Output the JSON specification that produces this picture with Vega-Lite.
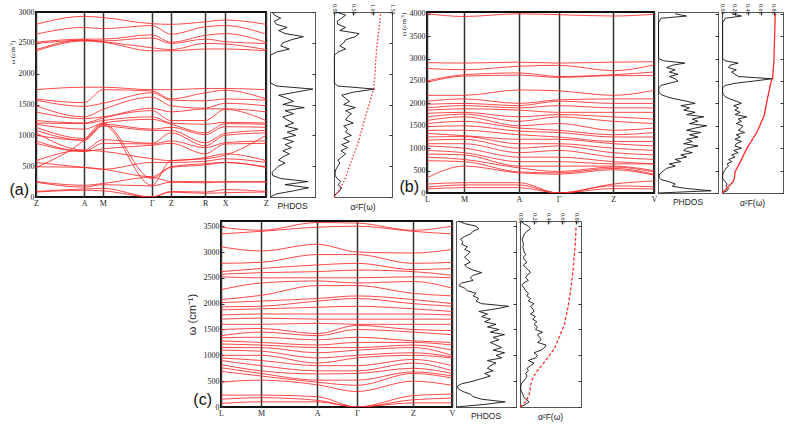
{
"$schema":"https://vega.github.io/schema/vega-lite/v6.json",
"background":"white",
"padding":{"left":7,"top":3,"right":2,"bottom":2},
"spacing":0,
"config":{
 "view":{"stroke":"#555","strokeWidth":1},
 "axis":{"labelFont":"Liberation Serif","labelFontSize":8,"labelColor":"#222","titleFont":"Liberation Serif","titleFontWeight":"normal","titleColor":"#222","domain":false,"grid":false,"tickColor":"#333","labelPadding":3,"tickCount":30},
 "title":{"font":"Liberation Sans","fontSize":8.5,"fontWeight":"normal","color":"#222","offset":3}
},
"datasets":{
"bandA":[
{"b":1,"k":0,"w":2800},{"b":1,"k":0.209,"w":2930},{"b":1,"k":0.291,"w":2910},{"b":1,"k":0.504,"w":2810},{"b":1,"k":0.587,"w":2800},{"b":1,"k":0.735,"w":2840},{"b":1,"k":0.822,"w":2870},{"b":1,"k":1,"w":2800},
{"b":2,"k":0,"w":2640},{"b":2,"k":0.209,"w":2750},{"b":2,"k":0.291,"w":2730},{"b":2,"k":0.504,"w":2780},{"b":2,"k":0.587,"w":2640},{"b":2,"k":0.735,"w":2760},{"b":2,"k":0.822,"w":2780},{"b":2,"k":1,"w":2640},
{"b":3,"k":0,"w":2510},{"b":3,"k":0.209,"w":2560},{"b":3,"k":0.291,"w":2560},{"b":3,"k":0.504,"w":2630},{"b":3,"k":0.587,"w":2510},{"b":3,"k":0.735,"w":2620},{"b":3,"k":0.822,"w":2650},{"b":3,"k":1,"w":2510},
{"b":4,"k":0,"w":2490},{"b":4,"k":0.209,"w":2540},{"b":4,"k":0.291,"w":2530},{"b":4,"k":0.504,"w":2580},{"b":4,"k":0.587,"w":2490},{"b":4,"k":0.735,"w":2560},{"b":4,"k":0.822,"w":2520},{"b":4,"k":1,"w":2490},
{"b":5,"k":0,"w":2390},{"b":5,"k":0.209,"w":2550},{"b":5,"k":0.291,"w":2520},{"b":5,"k":0.504,"w":2420},{"b":5,"k":0.587,"w":2390},{"b":5,"k":0.735,"w":2490},{"b":5,"k":0.822,"w":2480},{"b":5,"k":1,"w":2390},
{"b":6,"k":0,"w":2370},{"b":6,"k":0.209,"w":2530},{"b":6,"k":0.291,"w":2510},{"b":6,"k":0.504,"w":2370},{"b":6,"k":0.587,"w":2370},{"b":6,"k":0.735,"w":2400},{"b":6,"k":0.822,"w":2400},{"b":6,"k":1,"w":2370},
{"b":7,"k":0,"w":1740},{"b":7,"k":0.209,"w":1780},{"b":7,"k":0.291,"w":1780},{"b":7,"k":0.504,"w":1740},{"b":7,"k":0.587,"w":1740},{"b":7,"k":0.735,"w":1760},{"b":7,"k":0.822,"w":1760},{"b":7,"k":1,"w":1740},
{"b":8,"k":0,"w":1590},{"b":8,"k":0.209,"w":1530},{"b":8,"k":0.291,"w":1740},{"b":8,"k":0.504,"w":1720},{"b":8,"k":0.587,"w":1590},{"b":8,"k":0.735,"w":1690},{"b":8,"k":0.822,"w":1730},{"b":8,"k":1,"w":1590},
{"b":9,"k":0,"w":1570},{"b":9,"k":0.209,"w":1470},{"b":9,"k":0.291,"w":1520},{"b":9,"k":0.504,"w":1690},{"b":9,"k":0.587,"w":1570},{"b":9,"k":0.735,"w":1560},{"b":9,"k":0.822,"w":1590},{"b":9,"k":1,"w":1570},
{"b":10,"k":0,"w":1480},{"b":10,"k":0.209,"w":1300},{"b":10,"k":0.291,"w":1420},{"b":10,"k":0.504,"w":1620},{"b":10,"k":0.587,"w":1480},{"b":10,"k":0.735,"w":1440},{"b":10,"k":0.822,"w":1520},{"b":10,"k":1,"w":1480},
{"b":11,"k":0,"w":1380},{"b":11,"k":0.209,"w":1270},{"b":11,"k":0.291,"w":1300},{"b":11,"k":0.504,"w":1440},{"b":11,"k":0.587,"w":1380},{"b":11,"k":0.735,"w":1430},{"b":11,"k":0.822,"w":1430},{"b":11,"k":1,"w":1380},
{"b":12,"k":0,"w":1240},{"b":12,"k":0.209,"w":1200},{"b":12,"k":0.291,"w":1280},{"b":12,"k":0.504,"w":1400},{"b":12,"k":0.587,"w":1240},{"b":12,"k":0.735,"w":1240},{"b":12,"k":0.822,"w":1420},{"b":12,"k":1,"w":1240},
{"b":13,"k":0,"w":1200},{"b":13,"k":0.209,"w":1190},{"b":13,"k":0.291,"w":1240},{"b":13,"k":0.504,"w":1300},{"b":13,"k":0.587,"w":1200},{"b":13,"k":0.735,"w":1180},{"b":13,"k":0.822,"w":1210},{"b":13,"k":1,"w":1200},
{"b":14,"k":0,"w":1180},{"b":14,"k":0.209,"w":1100},{"b":14,"k":0.291,"w":1200},{"b":14,"k":0.504,"w":1260},{"b":14,"k":0.587,"w":1180},{"b":14,"k":0.735,"w":1040},{"b":14,"k":0.822,"w":1190},{"b":14,"k":1,"w":1180},
{"b":15,"k":0,"w":1130},{"b":15,"k":0.209,"w":950},{"b":15,"k":0.291,"w":1180},{"b":15,"k":0.504,"w":1100},{"b":15,"k":0.587,"w":1130},{"b":15,"k":0.735,"w":1010},{"b":15,"k":0.822,"w":1140},{"b":15,"k":1,"w":1130},
{"b":16,"k":0,"w":1080},{"b":16,"k":0.209,"w":920},{"b":16,"k":0.291,"w":1150},{"b":16,"k":0.504,"w":1080},{"b":16,"k":0.587,"w":1080},{"b":16,"k":0.735,"w":880},{"b":16,"k":0.822,"w":1030},{"b":16,"k":1,"w":1080},
{"b":17,"k":0,"w":1040},{"b":17,"k":0.209,"w":760},{"b":17,"k":0.291,"w":930},{"b":17,"k":0.504,"w":870},{"b":17,"k":0.587,"w":1040},{"b":17,"k":0.735,"w":830},{"b":17,"k":0.822,"w":1000},{"b":17,"k":1,"w":1040},
{"b":18,"k":0,"w":910},{"b":18,"k":0.209,"w":740},{"b":18,"k":0.291,"w":870},{"b":18,"k":0.504,"w":860},{"b":18,"k":0.587,"w":910},{"b":18,"k":0.735,"w":800},{"b":18,"k":0.822,"w":880},{"b":18,"k":1,"w":910},
{"b":19,"k":0,"w":870},{"b":19,"k":0.209,"w":740},{"b":19,"k":0.291,"w":780},{"b":19,"k":0.504,"w":840},{"b":19,"k":0.587,"w":870},{"b":19,"k":0.735,"w":700},{"b":19,"k":0.822,"w":860},{"b":19,"k":1,"w":870},
{"b":20,"k":0,"w":590},{"b":20,"k":0.209,"w":760},{"b":20,"k":0.291,"w":740},{"b":20,"k":0.504,"w":620},{"b":20,"k":0.587,"w":590},{"b":20,"k":0.735,"w":640},{"b":20,"k":0.822,"w":700},{"b":20,"k":1,"w":590},
{"b":21,"k":0,"w":560},{"b":21,"k":0.209,"w":480},{"b":21,"k":0.291,"w":450},{"b":21,"k":0.504,"w":560},{"b":21,"k":0.587,"w":560},{"b":21,"k":0.735,"w":580},{"b":21,"k":0.822,"w":620},{"b":21,"k":1,"w":560},
{"b":22,"k":0,"w":490},{"b":22,"k":0.209,"w":480},{"b":22,"k":0.291,"w":450},{"b":22,"k":0.504,"w":330},{"b":22,"k":0.587,"w":490},{"b":22,"k":0.735,"w":540},{"b":22,"k":0.822,"w":560},{"b":22,"k":1,"w":490},
{"b":23,"k":0,"w":480},{"b":23,"k":0.209,"w":920},{"b":23,"k":0.291,"w":1200},{"b":23,"k":0.504,"w":300},{"b":23,"k":0.587,"w":480},{"b":23,"k":0.735,"w":520},{"b":23,"k":0.822,"w":560},{"b":23,"k":1,"w":480},
{"b":24,"k":0,"w":1000},{"b":24,"k":0.209,"w":920},{"b":24,"k":0.291,"w":1170},{"b":24,"k":0.504,"w":190},{"b":24,"k":0.587,"w":590},{"b":24,"k":0.735,"w":620},{"b":24,"k":0.822,"w":680},{"b":24,"k":1,"w":1000},
{"b":25,"k":0,"w":250},{"b":25,"k":0.209,"w":190},{"b":25,"k":0.291,"w":220},{"b":25,"k":0.504,"w":320},{"b":25,"k":0.587,"w":250},{"b":25,"k":0.735,"w":250},{"b":25,"k":0.822,"w":240},{"b":25,"k":1,"w":250},
{"b":26,"k":0,"w":240},{"b":26,"k":0.209,"w":160},{"b":26,"k":0.291,"w":200},{"b":26,"k":0.504,"w":180},{"b":26,"k":0.587,"w":240},{"b":26,"k":0.735,"w":230},{"b":26,"k":0.822,"w":250},{"b":26,"k":1,"w":240},
{"b":27,"k":0,"w":90},{"b":27,"k":0.209,"w":130},{"b":27,"k":0.291,"w":140},{"b":27,"k":0.504,"w":0},{"b":27,"k":0.587,"w":90},{"b":27,"k":0.735,"w":80},{"b":27,"k":0.822,"w":120},{"b":27,"k":1,"w":90},
{"b":28,"k":0,"w":80},{"b":28,"k":0.209,"w":110},{"b":28,"k":0.291,"w":100},{"b":28,"k":0.504,"w":0},{"b":28,"k":0.587,"w":80},{"b":28,"k":0.735,"w":60},{"b":28,"k":0.822,"w":70},{"b":28,"k":1,"w":80}
],
"bandB":[
{"b":1,"k":0,"w":4000},{"b":1,"k":0.163,"w":3940},{"b":1,"k":0.405,"w":4000},{"b":1,"k":0.58,"w":3980},{"b":1,"k":0.82,"w":3950},{"b":1,"k":1,"w":3990},
{"b":2,"k":0,"w":2910},{"b":2,"k":0.163,"w":2900},{"b":2,"k":0.405,"w":2920},{"b":2,"k":0.58,"w":2900},{"b":2,"k":0.82,"w":2920},{"b":2,"k":1,"w":2930},
{"b":3,"k":0,"w":2780},{"b":3,"k":0.163,"w":2750},{"b":3,"k":0.405,"w":2830},{"b":3,"k":0.58,"w":2850},{"b":3,"k":0.82,"w":2730},{"b":3,"k":1,"w":2860},
{"b":4,"k":0,"w":2500},{"b":4,"k":0.163,"w":2640},{"b":4,"k":0.405,"w":2680},{"b":4,"k":0.58,"w":2600},{"b":4,"k":0.82,"w":2640},{"b":4,"k":1,"w":2700},
{"b":5,"k":0,"w":2470},{"b":5,"k":0.163,"w":2610},{"b":5,"k":0.405,"w":2630},{"b":5,"k":0.58,"w":2580},{"b":5,"k":0.82,"w":2620},{"b":5,"k":1,"w":2620},
{"b":6,"k":0,"w":2180},{"b":6,"k":0.163,"w":2180},{"b":6,"k":0.405,"w":2300},{"b":6,"k":0.58,"w":2280},{"b":6,"k":0.82,"w":2180},{"b":6,"k":1,"w":2290},
{"b":7,"k":0,"w":2050},{"b":7,"k":0.163,"w":2100},{"b":7,"k":0.405,"w":2000},{"b":7,"k":0.58,"w":2080},{"b":7,"k":0.82,"w":2100},{"b":7,"k":1,"w":2100},
{"b":8,"k":0,"w":1980},{"b":8,"k":0.163,"w":2000},{"b":8,"k":0.405,"w":1950},{"b":8,"k":0.58,"w":2050},{"b":8,"k":0.82,"w":2000},{"b":8,"k":1,"w":2000},
{"b":9,"k":0,"w":1900},{"b":9,"k":0.163,"w":1950},{"b":9,"k":0.405,"w":1900},{"b":9,"k":0.58,"w":1950},{"b":9,"k":0.82,"w":1900},{"b":9,"k":1,"w":1900},
{"b":10,"k":0,"w":1850},{"b":10,"k":0.163,"w":1880},{"b":10,"k":0.405,"w":1850},{"b":10,"k":0.58,"w":1800},{"b":10,"k":0.82,"w":1800},{"b":10,"k":1,"w":1800},
{"b":11,"k":0,"w":1780},{"b":11,"k":0.163,"w":1800},{"b":11,"k":0.405,"w":1700},{"b":11,"k":0.58,"w":1750},{"b":11,"k":0.82,"w":1700},{"b":11,"k":1,"w":1650},
{"b":12,"k":0,"w":1700},{"b":12,"k":0.163,"w":1760},{"b":12,"k":0.405,"w":1600},{"b":12,"k":0.58,"w":1700},{"b":12,"k":0.82,"w":1600},{"b":12,"k":1,"w":1550},
{"b":13,"k":0,"w":1620},{"b":13,"k":0.163,"w":1700},{"b":13,"k":0.405,"w":1500},{"b":13,"k":0.58,"w":1550},{"b":13,"k":0.82,"w":1400},{"b":13,"k":1,"w":1450},
{"b":14,"k":0,"w":1550},{"b":14,"k":0.163,"w":1600},{"b":14,"k":0.405,"w":1450},{"b":14,"k":0.58,"w":1400},{"b":14,"k":0.82,"w":1300},{"b":14,"k":1,"w":1350},
{"b":15,"k":0,"w":1480},{"b":15,"k":0.163,"w":1500},{"b":15,"k":0.405,"w":1380},{"b":15,"k":0.58,"w":1350},{"b":15,"k":0.82,"w":1250},{"b":15,"k":1,"w":1250},
{"b":16,"k":0,"w":1400},{"b":16,"k":0.163,"w":1400},{"b":16,"k":0.405,"w":1300},{"b":16,"k":0.58,"w":1250},{"b":16,"k":0.82,"w":1150},{"b":16,"k":1,"w":1150},
{"b":17,"k":0,"w":1330},{"b":17,"k":0.163,"w":1280},{"b":17,"k":0.405,"w":1200},{"b":17,"k":0.58,"w":1200},{"b":17,"k":0.82,"w":1100},{"b":17,"k":1,"w":1050},
{"b":18,"k":0,"w":1250},{"b":18,"k":0.163,"w":1260},{"b":18,"k":0.405,"w":1100},{"b":18,"k":0.58,"w":1100},{"b":18,"k":0.82,"w":1000},{"b":18,"k":1,"w":950},
{"b":19,"k":0,"w":1180},{"b":19,"k":0.163,"w":1200},{"b":19,"k":0.405,"w":1000},{"b":19,"k":0.58,"w":1050},{"b":19,"k":0.82,"w":900},{"b":19,"k":1,"w":850},
{"b":20,"k":0,"w":1100},{"b":20,"k":0.163,"w":1100},{"b":20,"k":0.405,"w":900},{"b":20,"k":0.58,"w":950},{"b":20,"k":0.82,"w":800},{"b":20,"k":1,"w":750},
{"b":21,"k":0,"w":1050},{"b":21,"k":0.163,"w":1000},{"b":21,"k":0.405,"w":800},{"b":21,"k":0.58,"w":800},{"b":21,"k":0.82,"w":700},{"b":21,"k":1,"w":650},
{"b":22,"k":0,"w":950},{"b":22,"k":0.163,"w":900},{"b":22,"k":0.405,"w":700},{"b":22,"k":0.58,"w":700},{"b":22,"k":0.82,"w":650},{"b":22,"k":1,"w":650},
{"b":23,"k":0,"w":870},{"b":23,"k":0.163,"w":850},{"b":23,"k":0.405,"w":600},{"b":23,"k":0.58,"w":600},{"b":23,"k":0.82,"w":600},{"b":23,"k":1,"w":500},
{"b":24,"k":0,"w":800},{"b":24,"k":0.163,"w":750},{"b":24,"k":0.405,"w":560},{"b":24,"k":0.58,"w":480},{"b":24,"k":0.82,"w":580},{"b":24,"k":1,"w":470},
{"b":25,"k":0,"w":720},{"b":25,"k":0.163,"w":700},{"b":25,"k":0.405,"w":470},{"b":25,"k":0.58,"w":450},{"b":25,"k":0.82,"w":550},{"b":25,"k":1,"w":420},
{"b":26,"k":0,"w":340},{"b":26,"k":0.163,"w":600},{"b":26,"k":0.405,"w":450},{"b":26,"k":0.58,"w":420},{"b":26,"k":0.82,"w":520},{"b":26,"k":1,"w":400},
{"b":27,"k":0,"w":200},{"b":27,"k":0.163,"w":230},{"b":27,"k":0.405,"w":230},{"b":27,"k":0.58,"w":0},{"b":27,"k":0.82,"w":200},{"b":27,"k":1,"w":270},
{"b":28,"k":0,"w":130},{"b":28,"k":0.163,"w":180},{"b":28,"k":0.405,"w":180},{"b":28,"k":0.58,"w":0},{"b":28,"k":0.82,"w":160},{"b":28,"k":1,"w":140},
{"b":29,"k":0,"w":90},{"b":29,"k":0.163,"w":120},{"b":29,"k":0.405,"w":120},{"b":29,"k":0.58,"w":0},{"b":29,"k":0.82,"w":100},{"b":29,"k":1,"w":90}
],
"bandC":[
{"b":1,"k":0,"w":3480},{"b":1,"k":0.173,"w":3420},{"b":1,"k":0.416,"w":3570},{"b":1,"k":0.589,"w":3560},{"b":1,"k":0.831,"w":3420},{"b":1,"k":1,"w":3500},
{"b":2,"k":0,"w":3350},{"b":2,"k":0.173,"w":3400},{"b":2,"k":0.416,"w":3480},{"b":2,"k":0.589,"w":3500},{"b":2,"k":0.831,"w":3400},{"b":2,"k":1,"w":3350},
{"b":3,"k":0,"w":3100},{"b":3,"k":0.173,"w":3020},{"b":3,"k":0.416,"w":3150},{"b":3,"k":0.589,"w":3000},{"b":3,"k":0.831,"w":2980},{"b":3,"k":1,"w":3050},
{"b":4,"k":0,"w":2780},{"b":4,"k":0.173,"w":2800},{"b":4,"k":0.416,"w":2950},{"b":4,"k":0.589,"w":2950},{"b":4,"k":0.831,"w":2780},{"b":4,"k":1,"w":2800},
{"b":5,"k":0,"w":2620},{"b":5,"k":0.173,"w":2680},{"b":5,"k":0.416,"w":2750},{"b":5,"k":0.589,"w":2780},{"b":5,"k":0.831,"w":2660},{"b":5,"k":1,"w":2680},
{"b":6,"k":0,"w":2570},{"b":6,"k":0.173,"w":2600},{"b":6,"k":0.416,"w":2620},{"b":6,"k":0.589,"w":2650},{"b":6,"k":0.831,"w":2620},{"b":6,"k":1,"w":2550},
{"b":7,"k":0,"w":2520},{"b":7,"k":0.173,"w":2500},{"b":7,"k":0.416,"w":2500},{"b":7,"k":0.589,"w":2500},{"b":7,"k":0.831,"w":2520},{"b":7,"k":1,"w":2500},
{"b":8,"k":0,"w":2270},{"b":8,"k":0.173,"w":2400},{"b":8,"k":0.416,"w":2440},{"b":8,"k":0.589,"w":2400},{"b":8,"k":0.831,"w":2430},{"b":8,"k":1,"w":2300},
{"b":9,"k":0,"w":2080},{"b":9,"k":0.173,"w":2160},{"b":9,"k":0.416,"w":2350},{"b":9,"k":0.589,"w":2350},{"b":9,"k":0.831,"w":2200},{"b":9,"k":1,"w":2150},
{"b":10,"k":0,"w":2020},{"b":10,"k":0.173,"w":2050},{"b":10,"k":0.416,"w":2100},{"b":10,"k":0.589,"w":2150},{"b":10,"k":0.831,"w":2080},{"b":10,"k":1,"w":2000},
{"b":11,"k":0,"w":1940},{"b":11,"k":0.173,"w":1950},{"b":11,"k":0.416,"w":2050},{"b":11,"k":0.589,"w":2100},{"b":11,"k":0.831,"w":2000},{"b":11,"k":1,"w":1950},
{"b":12,"k":0,"w":1880},{"b":12,"k":0.173,"w":1900},{"b":12,"k":0.416,"w":1930},{"b":12,"k":0.589,"w":1950},{"b":12,"k":0.831,"w":1900},{"b":12,"k":1,"w":1850},
{"b":13,"k":0,"w":1780},{"b":13,"k":0.173,"w":1800},{"b":13,"k":0.416,"w":1800},{"b":13,"k":0.589,"w":1800},{"b":13,"k":0.831,"w":1800},{"b":13,"k":1,"w":1780},
{"b":14,"k":0,"w":1700},{"b":14,"k":0.173,"w":1720},{"b":14,"k":0.416,"w":1700},{"b":14,"k":0.589,"w":1700},{"b":14,"k":0.831,"w":1700},{"b":14,"k":1,"w":1700},
{"b":15,"k":0,"w":1600},{"b":15,"k":0.173,"w":1600},{"b":15,"k":0.416,"w":1620},{"b":15,"k":0.589,"w":1600},{"b":15,"k":0.831,"w":1600},{"b":15,"k":1,"w":1600},
{"b":16,"k":0,"w":1500},{"b":16,"k":0.173,"w":1520},{"b":16,"k":0.416,"w":1420},{"b":16,"k":0.589,"w":1580},{"b":16,"k":0.831,"w":1500},{"b":16,"k":1,"w":1480},
{"b":17,"k":0,"w":1380},{"b":17,"k":0.173,"w":1450},{"b":17,"k":0.416,"w":1380},{"b":17,"k":0.589,"w":1500},{"b":17,"k":0.831,"w":1450},{"b":17,"k":1,"w":1400},
{"b":18,"k":0,"w":1340},{"b":18,"k":0.173,"w":1350},{"b":18,"k":0.416,"w":1300},{"b":18,"k":0.589,"w":1350},{"b":18,"k":0.831,"w":1280},{"b":18,"k":1,"w":1250},
{"b":19,"k":0,"w":1280},{"b":19,"k":0.173,"w":1250},{"b":19,"k":0.416,"w":1200},{"b":19,"k":0.589,"w":1250},{"b":19,"k":0.831,"w":1250},{"b":19,"k":1,"w":1200},
{"b":20,"k":0,"w":1220},{"b":20,"k":0.173,"w":1200},{"b":20,"k":0.416,"w":1150},{"b":20,"k":0.589,"w":1150},{"b":20,"k":0.831,"w":1200},{"b":20,"k":1,"w":1100},
{"b":21,"k":0,"w":1150},{"b":21,"k":0.173,"w":1150},{"b":21,"k":0.416,"w":1050},{"b":21,"k":0.589,"w":1100},{"b":21,"k":0.831,"w":1150},{"b":21,"k":1,"w":1000},
{"b":22,"k":0,"w":1100},{"b":22,"k":0.173,"w":1080},{"b":22,"k":0.416,"w":950},{"b":22,"k":0.589,"w":1000},{"b":22,"k":0.831,"w":1050},{"b":22,"k":1,"w":970},
{"b":23,"k":0,"w":1000},{"b":23,"k":0.173,"w":1000},{"b":23,"k":0.416,"w":850},{"b":23,"k":0.589,"w":950},{"b":23,"k":0.831,"w":1000},{"b":23,"k":1,"w":950},
{"b":24,"k":0,"w":950},{"b":24,"k":0.173,"w":900},{"b":24,"k":0.416,"w":800},{"b":24,"k":0.589,"w":800},{"b":24,"k":0.831,"w":920},{"b":24,"k":1,"w":800},
{"b":25,"k":0,"w":900},{"b":25,"k":0.173,"w":800},{"b":25,"k":0.416,"w":700},{"b":25,"k":0.589,"w":700},{"b":25,"k":0.831,"w":850},{"b":25,"k":1,"w":700},
{"b":26,"k":0,"w":820},{"b":26,"k":0.173,"w":700},{"b":26,"k":0.416,"w":640},{"b":26,"k":0.589,"w":650},{"b":26,"k":0.831,"w":750},{"b":26,"k":1,"w":650},
{"b":27,"k":0,"w":760},{"b":27,"k":0.173,"w":650},{"b":27,"k":0.416,"w":520},{"b":27,"k":0.589,"w":520},{"b":27,"k":0.831,"w":680},{"b":27,"k":1,"w":600},
{"b":28,"k":0,"w":690},{"b":28,"k":0.173,"w":600},{"b":28,"k":0.416,"w":480},{"b":28,"k":0.589,"w":420},{"b":28,"k":0.831,"w":650},{"b":28,"k":1,"w":560},
{"b":29,"k":0,"w":480},{"b":29,"k":0.173,"w":520},{"b":29,"k":0.416,"w":430},{"b":29,"k":0.589,"w":300},{"b":29,"k":0.831,"w":500},{"b":29,"k":1,"w":420},
{"b":30,"k":0,"w":230},{"b":30,"k":0.173,"w":230},{"b":30,"k":0.416,"w":200},{"b":30,"k":0.589,"w":0},{"b":30,"k":0.831,"w":220},{"b":30,"k":1,"w":250},
{"b":31,"k":0,"w":150},{"b":31,"k":0.173,"w":180},{"b":31,"k":0.416,"w":130},{"b":31,"k":0.589,"w":0},{"b":31,"k":0.831,"w":140},{"b":31,"k":1,"w":170},
{"b":32,"k":0,"w":70},{"b":32,"k":0.173,"w":100},{"b":32,"k":0.416,"w":100},{"b":32,"k":0.589,"w":0},{"b":32,"k":0.831,"w":80},{"b":32,"k":1,"w":80}
],
"dosA":[
{"w":0,"d":0,"f":0},{"w":50,"d":0.15,"f":0.05},{"w":100,"d":0.55,"f":0.15},{"w":150,"d":0.9,"f":0.2},{"w":200,"d":0.35,"f":0.1},{"w":250,"d":0.88,"f":0.18},{"w":300,"d":0.25,"f":0.08},{"w":350,"d":0.06,"f":0.03},{"w":400,"d":0.05,"f":0.03},{"w":450,"d":0.12,"f":0.05},{"w":500,"d":0.2,"f":0.1},{"w":550,"d":0.35,"f":0.15},{"w":600,"d":0.2,"f":0.1},{"w":650,"d":0.3,"f":0.2},{"w":700,"d":0.45,"f":0.3},{"w":750,"d":0.3,"f":0.18},{"w":800,"d":0.5,"f":0.35},{"w":850,"d":0.35,"f":0.2},{"w":900,"d":0.55,"f":0.4},{"w":950,"d":0.3,"f":0.25},{"w":1000,"d":0.6,"f":0.45},{"w":1050,"d":0.4,"f":0.3},{"w":1100,"d":0.65,"f":0.35},{"w":1150,"d":0.35,"f":0.25},{"w":1200,"d":0.55,"f":0.5},{"w":1250,"d":0.4,"f":0.3},{"w":1300,"d":0.3,"f":0.35},{"w":1350,"d":0.55,"f":0.45},{"w":1400,"d":0.35,"f":0.3},{"w":1450,"d":0.8,"f":0.55},{"w":1500,"d":0.3,"f":0.25},{"w":1550,"d":0.55,"f":0.4},{"w":1600,"d":0.4,"f":0.3},{"w":1650,"d":0.2,"f":0.2},{"w":1700,"d":0.6,"f":0.5},{"w":1750,"d":1,"f":1.05},{"w":1800,"d":0.15,"f":0.1},{"w":1850,"d":0.01,"f":0.01},{"w":1900,"d":0.01,"f":0.01},{"w":1950,"d":0.01,"f":0.01},{"w":2000,"d":0.01,"f":0.01},{"w":2050,"d":0.01,"f":0.01},{"w":2100,"d":0.01,"f":0.01},{"w":2150,"d":0.01,"f":0.01},{"w":2200,"d":0.01,"f":0.01},{"w":2250,"d":0.01,"f":0.01},{"w":2300,"d":0.01,"f":0.01},{"w":2350,"d":0.15,"f":0.1},{"w":2400,"d":0.45,"f":0.3},{"w":2450,"d":0.25,"f":0.15},{"w":2500,"d":0.3,"f":0.25},{"w":2550,"d":0.5,"f":0.3},{"w":2600,"d":0.78,"f":0.55},{"w":2650,"d":0.35,"f":0.65},{"w":2700,"d":0.2,"f":0.15},{"w":2750,"d":0.4,"f":0.3},{"w":2800,"d":0.15,"f":0.1},{"w":2850,"d":0.1,"f":0.08},{"w":2900,"d":0.25,"f":0.2},{"w":2950,"d":0.1,"f":0.3},{"w":3000,"d":0.05,"f":0.05}
],
"dosB":[
{"w":0,"d":0,"f":0},{"w":50,"d":0.93,"f":0.08},{"w":100,"d":0.5,"f":0.1},{"w":150,"d":0.25,"f":0.06},{"w":200,"d":0.3,"f":0.08},{"w":250,"d":0.2,"f":0.05},{"w":300,"d":0.05,"f":0.02},{"w":350,"d":0.02,"f":0.01},{"w":400,"d":0.02,"f":0.01},{"w":450,"d":0.05,"f":0.02},{"w":500,"d":0.1,"f":0.04},{"w":550,"d":0.15,"f":0.06},{"w":600,"d":0.3,"f":0.1},{"w":650,"d":0.2,"f":0.08},{"w":700,"d":0.4,"f":0.15},{"w":750,"d":0.3,"f":0.1},{"w":800,"d":0.5,"f":0.2},{"w":850,"d":0.4,"f":0.15},{"w":900,"d":0.6,"f":0.25},{"w":950,"d":0.45,"f":0.18},{"w":1000,"d":0.5,"f":0.3},{"w":1050,"d":0.7,"f":0.2},{"w":1100,"d":0.45,"f":0.22},{"w":1150,"d":0.6,"f":0.3},{"w":1200,"d":0.5,"f":0.2},{"w":1250,"d":0.7,"f":0.28},{"w":1300,"d":0.55,"f":0.22},{"w":1350,"d":0.75,"f":0.35},{"w":1400,"d":0.5,"f":0.25},{"w":1450,"d":0.65,"f":0.3},{"w":1500,"d":0.85,"f":0.32},{"w":1550,"d":0.55,"f":0.22},{"w":1600,"d":0.7,"f":0.3},{"w":1650,"d":0.6,"f":0.25},{"w":1700,"d":0.8,"f":0.38},{"w":1750,"d":0.5,"f":0.2},{"w":1800,"d":0.65,"f":0.28},{"w":1850,"d":0.45,"f":0.2},{"w":1900,"d":0.55,"f":0.25},{"w":1950,"d":0.4,"f":0.18},{"w":2000,"d":0.65,"f":0.3},{"w":2050,"d":0.5,"f":0.22},{"w":2100,"d":0.3,"f":0.12},{"w":2150,"d":0.15,"f":0.05},{"w":2200,"d":0.05,"f":0.02},{"w":2250,"d":0.02,"f":0.01},{"w":2300,"d":0.01,"f":0.01},{"w":2350,"d":0.02,"f":0.01},{"w":2400,"d":0.05,"f":0.05},{"w":2450,"d":0.2,"f":0.2},{"w":2500,"d":0.35,"f":0.5},{"w":2550,"d":0.3,"f":0.77},{"w":2600,"d":0.2,"f":0.25},{"w":2650,"d":0.35,"f":0.2},{"w":2700,"d":0.2,"f":0.15},{"w":2750,"d":0.3,"f":0.22},{"w":2800,"d":0.15,"f":0.1},{"w":2850,"d":0.25,"f":0.12},{"w":2900,"d":0.47,"f":0.25},{"w":2950,"d":0.1,"f":0.05},{"w":3000,"d":0.01,"f":0.01},{"w":3100,"d":0.01,"f":0.01},{"w":3200,"d":0.01,"f":0.01},{"w":3300,"d":0.01,"f":0.01},{"w":3400,"d":0.01,"f":0.01},{"w":3500,"d":0.01,"f":0.01},{"w":3600,"d":0.01,"f":0.01},{"w":3700,"d":0.01,"f":0.01},{"w":3800,"d":0.01,"f":0.01},{"w":3900,"d":0.05,"f":0.05},{"w":3950,"d":0.5,"f":0.3},{"w":4000,"d":0.3,"f":0.15}
],
"dosC":[
{"w":0,"d":0,"f":0},{"w":50,"d":0.5,"f":0.08},{"w":100,"d":0.86,"f":0.13},{"w":150,"d":0.45,"f":0.08},{"w":200,"d":0.3,"f":0.05},{"w":250,"d":0.25,"f":0.04},{"w":300,"d":0.12,"f":0.02},{"w":350,"d":0.04,"f":0.01},{"w":400,"d":0.02,"f":0.01},{"w":450,"d":0.1,"f":0.02},{"w":500,"d":0.3,"f":0.05},{"w":550,"d":0.45,"f":0.08},{"w":600,"d":0.6,"f":0.1},{"w":650,"d":0.5,"f":0.08},{"w":700,"d":0.65,"f":0.12},{"w":750,"d":0.55,"f":0.1},{"w":800,"d":0.6,"f":0.15},{"w":850,"d":0.7,"f":0.2},{"w":900,"d":0.55,"f":0.12},{"w":950,"d":0.8,"f":0.22},{"w":1000,"d":0.7,"f":0.25},{"w":1050,"d":0.85,"f":0.2},{"w":1100,"d":0.65,"f":0.3},{"w":1150,"d":0.8,"f":0.35},{"w":1200,"d":0.7,"f":0.37},{"w":1250,"d":0.6,"f":0.25},{"w":1300,"d":0.75,"f":0.3},{"w":1350,"d":0.65,"f":0.28},{"w":1400,"d":0.85,"f":0.25},{"w":1450,"d":0.6,"f":0.32},{"w":1500,"d":0.75,"f":0.22},{"w":1550,"d":0.55,"f":0.25},{"w":1600,"d":0.7,"f":0.2},{"w":1650,"d":0.5,"f":0.24},{"w":1700,"d":0.6,"f":0.18},{"w":1750,"d":0.45,"f":0.22},{"w":1800,"d":0.55,"f":0.15},{"w":1850,"d":0.4,"f":0.2},{"w":1900,"d":0.7,"f":0.18},{"w":1950,"d":0.92,"f":0.15},{"w":2000,"d":0.45,"f":0.2},{"w":2050,"d":0.35,"f":0.12},{"w":2100,"d":0.4,"f":0.15},{"w":2150,"d":0.3,"f":0.1},{"w":2200,"d":0.35,"f":0.12},{"w":2250,"d":0.2,"f":0.08},{"w":2300,"d":0.15,"f":0.06},{"w":2350,"d":0.05,"f":0.03},{"w":2400,"d":0.1,"f":0.05},{"w":2450,"d":0.3,"f":0.12},{"w":2500,"d":0.25,"f":0.08},{"w":2550,"d":0.3,"f":0.1},{"w":2600,"d":0.45,"f":0.15},{"w":2650,"d":0.3,"f":0.12},{"w":2700,"d":0.2,"f":0.08},{"w":2750,"d":0.15,"f":0.05},{"w":2800,"d":0.25,"f":0.1},{"w":2850,"d":0.2,"f":0.06},{"w":2900,"d":0.15,"f":0.05},{"w":2950,"d":0.2,"f":0.08},{"w":3000,"d":0.25,"f":0.06},{"w":3050,"d":0.15,"f":0.05},{"w":3100,"d":0.2,"f":0.04},{"w":3150,"d":0.1,"f":0.05},{"w":3200,"d":0.12,"f":0.04},{"w":3250,"d":0.08,"f":0.03},{"w":3300,"d":0.15,"f":0.05},{"w":3350,"d":0.25,"f":0.06},{"w":3400,"d":0.3,"f":0.1},{"w":3450,"d":0.4,"f":0.15},{"w":3500,"d":0.35,"f":0.12},{"w":3550,"d":0.15,"f":0.05},{"w":3600,"d":0.05,"f":0.02}
],
"lamA":[{"w":0,"l":0},{"w":100,"l":0.12},{"w":280,"l":0.28},{"w":520,"l":0.41},{"w":870,"l":0.62},{"w":1300,"l":0.81},{"w":1760,"l":1.03},{"w":2000,"l":1.06},{"w":2400,"l":1.1},{"w":2700,"l":1.16},{"w":3000,"l":1.21}],
"lamB":[{"w":0,"l":0},{"w":130,"l":0.09},{"w":250,"l":0.17},{"w":320,"l":0.19},{"w":470,"l":0.2},{"w":690,"l":0.28},{"w":990,"l":0.38},{"w":1360,"l":0.54},{"w":1730,"l":0.65},{"w":2100,"l":0.7},{"w":2480,"l":0.755},{"w":2560,"l":0.78},{"w":2950,"l":0.8},{"w":3950,"l":0.82},{"w":4000,"l":0.83}],
"lamC":[{"w":0,"l":0},{"w":100,"l":0.08},{"w":230,"l":0.13},{"w":480,"l":0.16},{"w":610,"l":0.2},{"w":740,"l":0.27},{"w":940,"l":0.39},{"w":1130,"l":0.49},{"w":1260,"l":0.53},{"w":1580,"l":0.63},{"w":1900,"l":0.68},{"w":2230,"l":0.72},{"w":2550,"l":0.75},{"w":2870,"l":0.77},{"w":3190,"l":0.79},{"w":3500,"l":0.8}]
},
"vconcat":[
{"hconcat":[
 {"width":230,"height":185,"view":{"stroke":"#111","strokeWidth":2},
  "layer":[
   {"data":{"name":"bandA"},"mark":{"type":"line","interpolate":"monotone","color":"#ff2a2a","strokeWidth":1,"opacity":0.85,"clip":true},
    "encoding":{
     "x":{"field":"k","type":"quantitative","scale":{"domain":[0,1],"nice":false},"axis":{"values":[0,0.209,0.291,0.504,0.587,0.735,0.822,1],"tickCount":30,"labelExpr":"['Z','A','M','Γ','Z','R','X','Z'][indexof([0,0.209,0.291,0.504,0.587,0.735,0.822,1],datum.value)]","grid":true,"gridColor":"#333","gridWidth":1.5,"ticks":false,"labelPadding":2,"labelFlush":false,"labelOverlap":false,"labelBound":false,"title":null}},
     "y":{"field":"w","type":"quantitative","scale":{"domain":[0,3000],"nice":false},"axis":{"values":[0,500,1000,1500,2000,2500,3000],"tickCount":30,"format":"d","title":"ω (cm⁻¹)","titleFontSize":7,"titleY":40,"titlePadding":3,"ticks":true,"tickSize":-3,"labelPadding":5}},
     "detail":{"field":"b"}}},
   {"data":{"values":[{}]},"mark":{"type":"text","text":"(a)","fontSize":16,"font":"Liberation Sans","align":"right","baseline":"alphabetic","color":"#111"},
    "encoding":{"x":{"datum":-0.03},"y":{"datum":30}}}
  ]},
 {"width":45,"height":185,"data":{"name":"dosA"},"view":{"stroke":"#555"},
  "title":{"text":"PHDOS","orient":"bottom"},
  "mark":{"type":"line","color":"#111","strokeWidth":0.9},
  "encoding":{"x":{"field":"d","type":"quantitative","scale":{"domain":[0,1.05],"nice":false},"axis":null},
   "y":{"field":"w","type":"quantitative","scale":{"domain":[0,3000],"nice":false},"axis":{"orient":"right","labels":false,"title":null,"values":[0,500,1000,1500,2000,2500,3000],"tickCount":30,"tickSize":-3}},
   "order":{"field":"w"}}},
 {"width":11,"height":185,"data":{"values":[]},"mark":"point","view":{"stroke":null}},
 {"width":58,"height":185,"view":{"stroke":"#555"},
  "title":{"text":"α²F(ω)","orient":"bottom"},
  "layer":[
   {"data":{"name":"dosA"},"mark":{"type":"line","color":"#111","strokeWidth":0.9},
    "encoding":{"x":{"field":"f","type":"quantitative","scale":{"domain":[0,1.5],"nice":false},"axis":{"orient":"top","values":[0,0.5,1,1.5],"tickCount":30,"labelAngle":90,"labelFontSize":6,"labelPadding":1,"tickSize":-3,"title":null,"labelFlush":false,"labelOverlap":false}},
     "y":{"field":"w","type":"quantitative","scale":{"domain":[0,3000],"nice":false},"axis":{"orient":"right","labels":false,"title":null,"values":[0,500,1000,1500,2000,2500,3000],"tickCount":30,"tickSize":-3}},
     "order":{"field":"w"}}},
   {"data":{"name":"lamA"},"mark":{"type":"line","color":"#ff2a2a","strokeWidth":1.3,"strokeDash":[1.5,2]},
    "encoding":{"x":{"field":"l","type":"quantitative"},"y":{"field":"w","type":"quantitative"},"order":{"field":"w"}}}
  ]},
 {"width":27,"height":185,"data":{"values":[]},"mark":"point","view":{"stroke":null}},
 {"width":227,"height":181,"view":{"stroke":"#111","strokeWidth":2},
  "layer":[
   {"data":{"name":"bandB"},"mark":{"type":"line","interpolate":"monotone","color":"#ff2a2a","strokeWidth":1,"opacity":0.85,"clip":true},
    "encoding":{
     "x":{"field":"k","type":"quantitative","scale":{"domain":[0,1],"nice":false},"axis":{"values":[0,0.163,0.405,0.58,0.82,1],"tickCount":30,"labelExpr":"['L','M','A','Γ','Z','V'][indexof([0,0.163,0.405,0.58,0.82,1],datum.value)]","grid":true,"gridColor":"#333","gridWidth":1.5,"ticks":false,"labelPadding":2,"labelFlush":false,"labelOverlap":false,"labelBound":false,"title":null}},
     "y":{"field":"w","type":"quantitative","scale":{"domain":[0,4040],"nice":false},"axis":{"values":[0,500,1000,1500,2000,2500,3000,3500,4000],"tickCount":30,"format":"d","title":"ω (cm⁻¹)","titleFontSize":7,"titleY":12,"titlePadding":3,"ticks":true,"tickSize":-3,"labelPadding":5}},
     "detail":{"field":"b"}}},
   {"data":{"values":[{}]},"mark":{"type":"text","text":"(b)","fontSize":16,"font":"Liberation Sans","align":"right","baseline":"alphabetic","color":"#111"},
    "encoding":{"x":{"datum":-0.035},"y":{"datum":30}}}
  ]},
 {"width":60,"height":181,"data":{"name":"dosB"},"view":{"stroke":"#555"},
  "title":{"text":"PHDOS","orient":"bottom"},
  "mark":{"type":"line","color":"#111","strokeWidth":0.9},
  "encoding":{"x":{"field":"d","type":"quantitative","scale":{"domain":[0,1.05],"nice":false},"axis":null},
   "y":{"field":"w","type":"quantitative","scale":{"domain":[0,4040],"nice":false},"axis":{"orient":"right","labels":false,"title":null,"values":[0,500,1000,1500,2000,2500,3000,3500,4000],"tickCount":30,"tickSize":-3}},
   "order":{"field":"w"}}},
 {"width":61,"height":181,"view":{"stroke":"#555"},
  "title":{"text":"α²F(ω)","orient":"bottom"},
  "layer":[
   {"data":{"name":"dosB"},"mark":{"type":"line","color":"#111","strokeWidth":0.9},
    "encoding":{"x":{"field":"f","type":"quantitative","scale":{"domain":[0,0.94],"nice":false},"axis":{"orient":"top","values":[0,0.2,0.4,0.6,0.8],"tickCount":30,"labelAngle":90,"labelFontSize":6,"labelPadding":1,"tickSize":-3,"title":null,"labelFlush":false,"labelOverlap":false}},
     "y":{"field":"w","type":"quantitative","scale":{"domain":[0,4040],"nice":false},"axis":{"orient":"right","labels":false,"title":null,"values":[0,500,1000,1500,2000,2500,3000,3500,4000],"tickCount":30,"tickSize":-3}},
     "order":{"field":"w"}}},
   {"data":{"name":"lamB"},"mark":{"type":"line","color":"#ff2a2a","strokeWidth":1.3},
    "encoding":{"x":{"field":"l","type":"quantitative"},"y":{"field":"w","type":"quantitative"},"order":{"field":"w"}}}
  ]}
],"spacing":4,"bounds":"flush"},
{"hconcat":[
 {"width":181,"height":186,"data":{"values":[]},"mark":"point","view":{"stroke":"white","strokeWidth":0.5}},
 {"width":231,"height":186,"view":{"stroke":"#111","strokeWidth":2},
  "layer":[
   {"data":{"name":"bandC"},"mark":{"type":"line","interpolate":"monotone","color":"#ff2a2a","strokeWidth":1,"opacity":0.85,"clip":true},
    "encoding":{
     "x":{"field":"k","type":"quantitative","scale":{"domain":[0,1],"nice":false},"axis":{"values":[0,0.173,0.416,0.589,0.831,1],"tickCount":30,"labelExpr":"['L','M','A','Γ','Z','V'][indexof([0,0.173,0.416,0.589,0.831,1],datum.value)]","grid":true,"gridColor":"#333","gridWidth":1.5,"ticks":false,"labelPadding":2,"labelFlush":false,"labelOverlap":false,"labelBound":false,"title":null}},
     "y":{"field":"w","type":"quantitative","scale":{"domain":[0,3600],"nice":false},"axis":{"values":[0,500,1000,1500,2000,2500,3000,3500],"tickCount":30,"format":"d","title":"ω (cm⁻¹)","titleFont":"Liberation Sans","titleFontSize":11,"titlePadding":6,"ticks":true,"tickSize":-3,"labelPadding":5}},
     "detail":{"field":"b"}}},
   {"data":{"values":[{}]},"mark":{"type":"text","text":"(c)","fontSize":16,"font":"Liberation Sans","align":"right","baseline":"alphabetic","color":"#111"},
    "encoding":{"x":{"datum":-0.039},"y":{"datum":40}}}
  ]},
 {"width":60,"height":186,"data":{"name":"dosC"},"view":{"stroke":"#555"},
  "title":{"text":"PHDOS","orient":"bottom"},
  "mark":{"type":"line","color":"#111","strokeWidth":0.9},
  "encoding":{"x":{"field":"d","type":"quantitative","scale":{"domain":[0,1.05],"nice":false},"axis":null},
   "y":{"field":"w","type":"quantitative","scale":{"domain":[0,3600],"nice":false},"axis":{"orient":"right","labels":false,"title":null,"values":[0,500,1000,1500,2000,2500,3000,3500],"tickCount":30,"tickSize":-3}},
   "order":{"field":"w"}}},
 {"width":61,"height":186,"view":{"stroke":"#555"},
  "title":{"text":"α²F(ω)","orient":"bottom"},
  "layer":[
   {"data":{"name":"dosC"},"mark":{"type":"line","color":"#111","strokeWidth":0.9},
    "encoding":{"x":{"field":"f","type":"quantitative","scale":{"domain":[0,0.87],"nice":false},"axis":{"orient":"top","values":[0,0.2,0.4,0.6,0.8],"tickCount":30,"labelAngle":90,"labelFontSize":6,"labelPadding":1,"tickSize":-3,"title":null,"labelFlush":false,"labelOverlap":false}},
     "y":{"field":"w","type":"quantitative","scale":{"domain":[0,3600],"nice":false},"axis":{"orient":"right","labels":false,"title":null,"values":[0,500,1000,1500,2000,2500,3000,3500],"tickCount":30,"tickSize":-3}},
     "order":{"field":"w"}}},
   {"data":{"name":"lamC"},"mark":{"type":"line","color":"#ff2a2a","strokeWidth":1.3,"strokeDash":[3,2]},
    "encoding":{"x":{"field":"l","type":"quantitative"},"y":{"field":"w","type":"quantitative"},"order":{"field":"w"}}}
  ]}
],"spacing":4,"bounds":"flush"}
]
}
